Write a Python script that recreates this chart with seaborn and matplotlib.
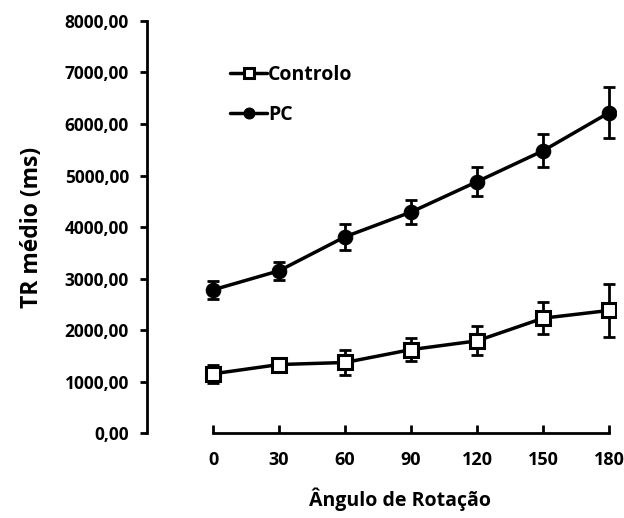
import matplotlib
matplotlib.use("Agg")
import matplotlib.pyplot as plt
import seaborn as sns
import pandas as pd
from matplotlib.ticker import FuncFormatter

sns.set_style("white")
plt.rcParams['font.family'] = ['Open Sans', 'DejaVu Sans']
plt.rcParams['font.weight'] = 'bold'
plt.rcParams['text.color'] = 'black'
plt.rcParams['axes.labelcolor'] = 'black'
plt.rcParams['xtick.color'] = 'black'
plt.rcParams['ytick.color'] = 'black'

angles = [0, 30, 60, 90, 120, 150, 180]
controlo_mean = [1150, 1330, 1370, 1620, 1790, 2230, 2380]
controlo_err = [180, 100, 250, 230, 280, 310, 510]
pc_mean = [2780, 3150, 3810, 4290, 4880, 5480, 6220]
pc_err = [180, 170, 250, 230, 280, 320, 500]
y_ticks = [0, 1000, 2000, 3000, 4000, 5000, 6000, 7000, 8000]

df_c = pd.DataFrame({"angulo": angles, "tr": controlo_mean})
df_p = pd.DataFrame({"angulo": angles, "tr": pc_mean})

fig = plt.figure(figsize=(6.24, 5.18), dpi=100)
ax = fig.add_axes([0.2356, 0.164, 0.751, 0.7955])

# error bars first so markers sit on top
ax.errorbar(angles, controlo_mean, yerr=controlo_err, fmt='none', ecolor='black',
            elinewidth=2, capsize=4, capthick=2, zorder=2)
ax.errorbar(angles, pc_mean, yerr=pc_err, fmt='none', ecolor='black',
            elinewidth=2, capsize=4, capthick=2, zorder=2)

sns.lineplot(data=df_c, x="angulo", y="tr", ax=ax, color='black', linewidth=2.5,
             marker='s', markersize=9.5, markerfacecolor='white', markeredgecolor='black',
             markeredgewidth=2.2, label='Controlo', zorder=3)
sns.lineplot(data=df_p, x="angulo", y="tr", ax=ax, color='black', linewidth=2.5,
             marker='o', markersize=10.5, markerfacecolor='black', markeredgecolor='black',
             label='PC', zorder=3)

ax.set_xlim(-30, 183)
ax.set_ylim(0, 8000)
ax.set_xticks(angles)
ax.set_yticks(y_ticks)
ax.yaxis.set_major_formatter(FuncFormatter(lambda v, p: f"{v:.2f}".replace('.', ',')))

for side in ['top', 'right']:
    ax.spines[side].set_visible(False)
ax.spines['left'].set_linewidth(2)
ax.spines['bottom'].set_linewidth(2)
ax.spines['left'].set_color('black')
ax.spines['bottom'].set_color('black')
ax.spines['bottom'].set_bounds(0, 180)

ax.tick_params(axis='y', direction='out', length=5, width=2, labelsize=12.5, pad=8, left=True)
ax.tick_params(axis='x', direction='in', length=6, width=2, labelsize=13, pad=13, bottom=True)
for lab in ax.get_xticklabels() + ax.get_yticklabels():
    lab.set_fontweight('bold')

ax.set_xlabel("Ângulo de Rotação", fontsize=14, fontweight='bold')
ax.xaxis.set_label_coords(0.54, -0.133)
ax.set_ylabel("TR médio (ms)", fontsize=16.5, fontweight='bold')
ax.yaxis.set_label_coords(-0.22, 0.5)

leg = ax.legend(loc='upper left', bbox_to_anchor=(0.14, 0.935), frameon=False,
                handlelength=1.9, handletextpad=0.05, labelspacing=1.0, markerscale=0.75,
                prop={'weight': 'bold', 'size': 14})

fig.savefig("out.png", dpi=100)
